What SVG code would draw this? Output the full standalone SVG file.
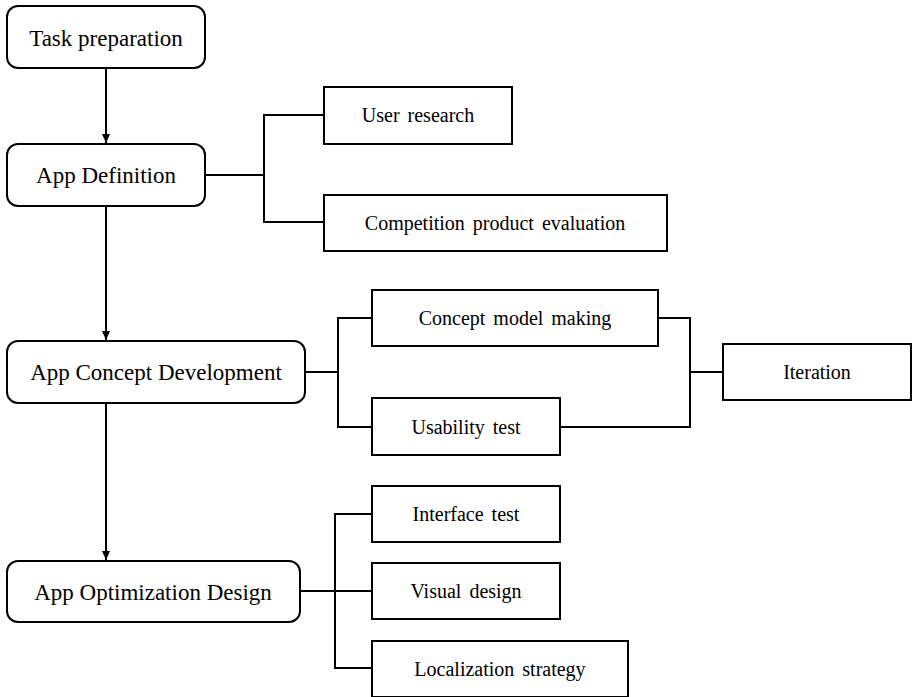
<svg xmlns="http://www.w3.org/2000/svg" width="912" height="697" viewBox="0 0 912 697">
<style>
.main rect{fill:#fff;stroke:#000;stroke-width:2}
.sub rect{fill:#fff;stroke:#000;stroke-width:2}
text{font-family:"Liberation Serif","Times New Roman",serif;fill:#000;text-anchor:middle}
.main text{font-size:23px}
.sub text{font-size:20px;word-spacing:3px}
#connectors path{fill:none;stroke:#000;stroke-width:2}
</style>
<defs>
<marker id="arr" markerWidth="10" markerHeight="10" refX="9" refY="5" orient="auto" markerUnits="userSpaceOnUse">
<path d="M0,1 L9,5 L0,9 Z" fill="#000"/>
</marker>
</defs>
<rect width="912" height="697" fill="#fff"/>
<g id="connectors">
<path d="M106,68 V143" marker-end="url(#arr)"/>
<path d="M106,206 V340" marker-end="url(#arr)"/>
<path d="M106,403 V560" marker-end="url(#arr)"/>
<path d="M205,175 H264"/>
<path d="M324,115 H264 V222 H324"/>
<path d="M305,372 H338"/>
<path d="M372,318 H338 V427 H372"/>
<path d="M658,318 H690 V427 H560"/>
<path d="M690,372 H723"/>
<path d="M300,591 H372"/>
<path d="M372,514 H335 V668 H372"/>
</g>
<g id="task-preparation" class="main"><rect x="7" y="6" width="198" height="62" rx="11"/><text x="106" y="46">Task preparation</text></g>
<g id="app-definition" class="main"><rect x="7" y="144" width="198" height="62" rx="11"/><text x="106" y="183">App Definition</text></g>
<g id="app-concept-development" class="main"><rect x="7" y="341" width="298" height="62" rx="11"/><text x="156" y="380">App Concept Development</text></g>
<g id="app-optimization-design" class="main"><rect x="7" y="561" width="293" height="61" rx="11"/><text x="153" y="600">App Optimization Design</text></g>
<g id="user-research" class="sub"><rect x="324" y="87" width="188" height="57"/><text x="418" y="122">User research</text></g>
<g id="competition" class="sub"><rect x="324" y="195" width="343" height="56"/><text x="495" y="230">Competition product evaluation</text></g>
<g id="concept-model" class="sub"><rect x="372" y="290" width="286" height="56"/><text x="515" y="325">Concept model making</text></g>
<g id="usability-test" class="sub"><rect x="372" y="398" width="188" height="57"/><text x="466" y="434">Usability test</text></g>
<g id="iteration" class="sub"><rect x="723" y="344" width="188" height="56"/><text x="817" y="379">Iteration</text></g>
<g id="interface-test" class="sub"><rect x="372" y="486" width="188" height="56"/><text x="466" y="521">Interface test</text></g>
<g id="visual-design" class="sub"><rect x="372" y="563" width="188" height="56"/><text x="466" y="598">Visual design</text></g>
<g id="localization" class="sub"><rect x="372" y="641" width="256" height="56"/><text x="500" y="676">Localization strategy</text></g>
</svg>
